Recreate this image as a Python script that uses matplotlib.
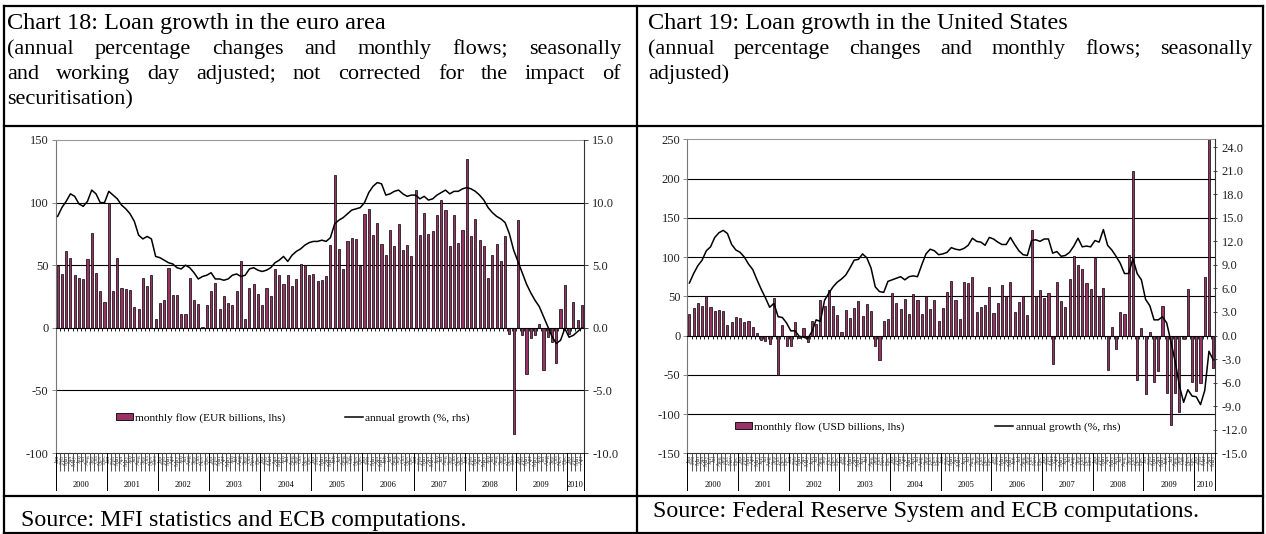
import numpy as np
import matplotlib.pyplot as plt
from matplotlib.lines import Line2D
from matplotlib.patches import Patch
from matplotlib.ticker import FormatStrFormatter
from matplotlib.transforms import blended_transform_factory

plt.rcParams['font.family'] = ['Liberation Serif', 'DejaVu Serif']
plt.rcParams['axes.unicode_minus'] = False

W, H = 1266, 534

# ---- data ----
years = ['2000', '2001', '2002', '2003', '2004', '2005', '2006', '2007', '2008', '2009', '2010']
month_abbr = ['Jan', 'Feb', 'Mar', 'Apr', 'May', 'Jun', 'Jul', 'Aug', 'Sep', 'Oct', 'Nov', 'Dec']

# euro area, Jan 2000 - Apr 2010
euro_flow = [49, 43, 61, 56, 42, 40, 39, 55, 76, 44, 29, 21,
             100, 29, 56, 32, 31, 30, 17, 15, 40, 33, 42, 7,
             20, 22, 48, 26, 26, 11, 11, 40, 22, 19, 1, 18,
             29, 36, 15, 25, 20, 18, 29, 53, 7, 32, 35, 27,
             18, 32, 25, 47, 42, 35, 42, 33, 39, 51, 50, 42,
             43, 37, 38, 41, 66, 122, 63, 47, 69, 72, 71, 49,
             91, 95, 74, 84, 67, 58, 78, 65, 83, 62, 66, 57,
             110, 74, 92, 75, 77, 90, 102, 94, 65, 90, 68, 78,
             135, 73, 87, 70, 65, 40, 58, 67, 53, 73, -5, -85,
             86, -6, -37, -8, -6, 3, -34, -7, -11, -28, 15, 34,
             -5, 21, 6, 18]
euro_growth = [8.9, 9.6, 10.1, 10.7, 10.5, 9.9, 9.7, 10.1, 11.0, 10.7, 10.0, 10.0,
               10.9, 10.6, 10.3, 9.8, 9.5, 9.1, 8.5, 7.4, 7.1, 7.3, 7.1, 5.7,
               5.6, 5.4, 5.2, 5.1, 4.8, 4.7, 5.0, 4.8, 4.4, 3.9, 4.1, 4.2,
               4.4, 3.9, 3.9, 3.8, 3.9, 4.2, 4.3, 4.1, 4.2, 4.7, 4.8, 4.6,
               4.5, 4.6, 4.8, 5.2, 5.4, 5.7, 5.3, 5.8, 6.1, 6.3, 6.6, 6.8,
               6.9, 6.9, 7.0, 6.9, 7.2, 8.3, 8.6, 8.8, 9.1, 9.4, 9.5, 9.6,
               10.0, 10.8, 11.3, 11.6, 11.5, 10.6, 10.7, 10.9, 11.0, 10.7, 10.5, 10.6,
               10.6, 10.3, 10.5, 10.2, 10.3, 10.6, 10.8, 11.0, 10.7, 10.9, 10.9, 11.1,
               11.2, 11.1, 10.9, 10.6, 10.2, 9.6, 9.2, 8.9, 8.7, 8.4, 7.5, 6.2,
               5.3, 4.4, 3.5, 2.8, 2.2, 1.7, 0.9, 0.1, -0.7, -1.25, -1.0, -0.05,
               -0.75, -0.6, -0.3, 0.0]

# United States, Jan 2000 - May 2010
us_flow = [27, 35, 42, 38, 50, 37, 31, 33, 31, 13, 17, 23,
           22, 17, 18, 11, 3, -6, -7, -11, 48, -50, 13, -13,
           -13, 17, -3, 9, -8, 18, 15, 45, 38, 58, 38, 26,
           4, 33, 22, 35, 44, 25, 40, 31, -13, -31, 18, 21,
           54, 41, 34, 46, 28, 53, 45, 27, 50, 34, 45, 18,
           35, 55, 69, 45, 21, 68, 67, 75, 30, 36, 39, 62,
           29, 42, 65, 51, 68, 30, 43, 50, 26, 135, 50, 58,
           48, 54, -36, 68, 44, 36, 72, 101, 90, 85, 67, 59,
           99, 50, 60, -44, 11, -17, 30, 27, 103, 209, -57, 10,
           -75, 5, -59, -45, 38, -73, -114, -73, -98, -5, 59, -59,
           -71, -61, 75, 255, -41]
us_growth = [6.7, 7.9, 8.9, 9.6, 10.8, 11.3, 12.5, 13.1, 13.4, 13.0, 11.6, 10.9,
             10.6, 10.0, 9.1, 8.4, 7.1, 5.9, 4.8, 3.6, 4.1, 2.4, 2.3, 1.6,
             0.6, 0.6, -0.1, -0.2, -0.4, 0.5, 2.0, 1.8, 4.5, 5.4, 6.2, 6.8,
             7.2, 7.7, 8.6, 9.6, 9.7, 10.4, 9.9, 8.6, 6.2, 5.6, 5.5, 6.9,
             7.1, 7.3, 7.5, 7.1, 7.5, 7.6, 7.5, 9.0, 10.4, 11.0, 10.8, 10.3,
             10.4, 10.6, 11.2, 11.0, 10.9, 11.1, 11.5, 12.4, 12.0, 11.9, 11.5, 12.5,
             12.3, 11.9, 11.6, 11.6, 12.5, 11.6, 10.8, 10.3, 10.2, 12.1, 12.2, 12.0,
             12.3, 12.3, 10.5, 10.7, 10.1, 10.2, 10.6, 11.4, 12.4, 11.3, 11.4, 11.3,
             12.1, 11.9, 13.5, 11.5, 10.9, 10.1, 9.2, 7.9, 7.9, 9.8, 7.9, 7.1,
             4.6, 3.8, 2.0, 2.0, 2.4, 1.6, -0.8, -3.3, -6.4, -8.5, -6.9, -7.7,
             -7.8, -8.8, -7.0, -2.0, -3.1]

BAR = '#993366'

fig = plt.figure(figsize=(W / 100, H / 100), dpi=100)


def fx(px):
    return px / W


def fy(py):
    return 1 - py / H


def rule(x0, y0, x1, y1):
    fig.add_artist(Line2D([fx(x0), fx(x1)], [fy(y0), fy(y1)], color='black', lw=1.6,
                          transform=fig.transFigure, solid_capstyle='projecting'))


# table frame
rule(4, 6, 1263, 6)
rule(4, 125.5, 1263, 125.5)
rule(4, 495.5, 1263, 495.5)
rule(4, 533, 1263, 533)
rule(4, 6, 4, 533)
rule(637, 6, 637, 533)
rule(1263, 6, 1263, 533)

renderer = fig.canvas.get_renderer()


def justified(words, x0, x1, y, size):
    # spread the words of one line evenly between x0 and x1 (justified text)
    texts = [fig.text(0, fy(y), w, fontsize=size, va='baseline') for w in words]
    widths = [t.get_window_extent(renderer).width for t in texts]
    gap = (x1 - x0 - sum(widths)) / (len(words) - 1)
    x = x0
    for t, w in zip(texts, widths):
        t.set_x(fx(x))
        x += w + gap


TITLE, SUB, SRC = 17.5, 16, 17.3

# headers
fig.text(fx(7), fy(29), 'Chart 18: Loan growth in the euro area', fontsize=TITLE, va='baseline')
justified('(annual percentage changes and monthly flows; seasonally'.split(), 7, 621, 54, SUB)
justified('and working day adjusted; not corrected for the impact of'.split(), 7, 621, 79, SUB)
fig.text(fx(7), fy(104), 'securitisation)', fontsize=SUB, va='baseline')

fig.text(fx(648), fy(29), 'Chart 19: Loan growth in the United States', fontsize=TITLE, va='baseline')
justified('(annual percentage changes and monthly flows; seasonally'.split(), 648, 1252, 54, SUB)
fig.text(fx(648), fy(79), 'adjusted)', fontsize=SUB, va='baseline')

fig.text(fx(21), fy(526), 'Source: MFI statistics and ECB computations.', fontsize=SRC, va='baseline')
fig.text(fx(653), fy(517), 'Source: Federal Reserve System and ECB computations.', fontsize=SRC,
         va='baseline')


def chart(box, flow, growth, lticks, rticks, flow_label, leg_bar, leg_line, rdir):
    left, top, right, bottom = box
    ax = fig.add_axes([fx(left), fy(bottom), fx(right) - fx(left), fy(top) - fy(bottom)])
    n = len(flow)
    x = np.arange(n)
    ax.bar(x, flow, width=0.5, color=BAR, edgecolor='black', linewidth=0.5, zorder=2)
    ax.set_xlim(-0.5, n - 0.5)
    ax.set_ylim(lticks[0], lticks[-1])
    ax.set_yticks(lticks)
    for t in lticks[1:-1]:
        if t != 0:
            ax.axhline(t, color='black', lw=0.8, zorder=1)
    ax.spines['bottom'].set_position(('data', 0))
    ax.spines['bottom'].set_linewidth(0.8)
    ax.spines['top'].set_color('#999999')
    ax.spines['left'].set_color('#777777')
    ax.spines['right'].set_visible(False)
    ax.set_xticks(np.arange(n + 1) - 0.5)
    ax.tick_params(axis='x', length=2, width=0.6, labelbottom=False)
    ax.tick_params(axis='y', length=3, width=0.6, labelsize=9, colors='#222222', pad=2)
    ax.tick_params(axis='y', color='#777777')

    axr = ax.twinx()
    axr.plot(x, growth, color='black', lw=1.1, zorder=3)
    axr.set_ylim(rticks[0], lticks[-1] / 10)
    axr.set_yticks(rticks)
    axr.yaxis.set_major_formatter(FormatStrFormatter('%.1f'))
    axr.tick_params(axis='y', length=3, width=0.6, labelsize=9, colors='#222222', pad=3,
                    direction=rdir)
    for s in ['top', 'left', 'bottom']:
        axr.spines[s].set_visible(False)
    axr.spines['right'].set_color('#333333')

    # bottom category band: month ticks, squeezed month labels, year cells
    sec = ax.secondary_xaxis('bottom')
    sec.set_xticks(np.arange(n + 1) - 0.5)
    sec.set_xticks(x, labels=[month_abbr[i % 12] for i in x], minor=True)
    sec.tick_params(which='major', length=13, width=0.6, labelbottom=False, color='#333333')
    sec.tick_params(which='minor', length=0, labelsize=4.5, labelrotation=90, pad=1,
                    labelcolor='#444444')
    sec.spines['bottom'].set_color('#333333')

    blend = blended_transform_factory(ax.transData, fig.transFigure)
    bounds = list(range(0, n, 12)) + [n]
    for b in bounds:
        fig.add_artist(Line2D([b - 0.5, b - 0.5], [fy(bottom), fy(bottom + 37)], color='black',
                              lw=0.7, transform=blend))
    for k, yr in enumerate(years):
        a, b = bounds[k], bounds[k + 1]
        fig.text((a + b - 1) / 2, fy(bottom + 34), yr, fontsize=6, ha='center',
                 va='baseline', transform=blend)

    bar_handle = Patch(facecolor=BAR, edgecolor='black', linewidth=0.6)
    line_handle = Line2D([], [], color='black', lw=1.1)
    leg1 = axr.legend([bar_handle], [flow_label], loc='center left', bbox_to_anchor=leg_bar,
                      frameon=False, fontsize=8.2, handlelength=1.5, handleheight=0.55,
                      handletextpad=0.2, borderpad=0, borderaxespad=0)
    axr.add_artist(leg1)
    axr.legend([line_handle], ['annual growth (%, rhs)'], loc='center left', bbox_to_anchor=leg_line,
               frameon=False, fontsize=8.2, handlelength=1.6, handletextpad=0.2,
               borderpad=0, borderaxespad=0)
    return ax, axr


chart((55.5, 140, 584, 453), euro_flow, euro_growth,
      [-100, -50, 0, 50, 100, 150], [-10, -5, 0, 5, 10, 15],
      'monthly flow (EUR billions, lhs)', (0.114, 0.112), (0.547, 0.112), 'out')
chart((687.3, 139.3, 1215.3, 453.3), us_flow, us_growth,
      [-150, -100, -50, 0, 50, 100, 150, 200, 250], list(range(-15, 25, 3)),
      'monthly flow (USD billions, lhs)', (0.090, 0.084), (0.583, 0.084), 'inout')

fig.savefig('out.png', dpi=100)
